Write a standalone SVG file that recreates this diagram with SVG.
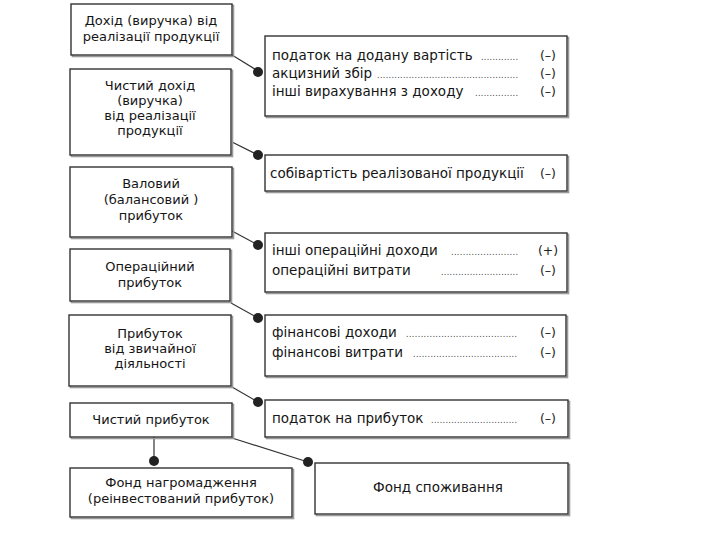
<svg xmlns="http://www.w3.org/2000/svg" width="720" height="540" viewBox="0 0 720 540">
<style>
.box{fill:#fff;stroke:#333;stroke-width:1.4}
.sh{fill:none;stroke:#9a9a9a;stroke-width:1.6}
.t{font-family:"DejaVu Sans","Liberation Sans",sans-serif;font-size:13px;fill:#151515}
.r{font-size:13.5px}
.c{text-anchor:middle}
.d{font-family:"DejaVu Sans","Liberation Sans",sans-serif;font-size:8px;fill:#3a3a3a}
.s{font-family:"DejaVu Sans","Liberation Sans",sans-serif;font-size:12.5px;fill:#222;text-anchor:middle}
.ln{stroke:#333;stroke-width:1.2;fill:none}
.dot{fill:#222}
</style>
<rect width="720" height="540" fill="#fff"/>
<g id="connectors">
<line class="ln" x1="232" y1="55" x2="258" y2="71"/>
<circle class="dot" cx="258" cy="72" r="5"/>
<line class="ln" x1="232" y1="142" x2="258" y2="155"/>
<circle class="dot" cx="258" cy="155" r="5"/>
<line class="ln" x1="232" y1="231" x2="258" y2="245"/>
<circle class="dot" cx="258" cy="245" r="5"/>
<line class="ln" x1="231" y1="303" x2="258" y2="318"/>
<circle class="dot" cx="258" cy="318" r="5"/>
<line class="ln" x1="232" y1="387" x2="258" y2="402"/>
<circle class="dot" cx="258" cy="402" r="5"/>
<line class="ln" x1="154" y1="437" x2="154" y2="461"/>
<circle class="dot" cx="154" cy="461" r="5"/>
<line class="ln" x1="232" y1="438" x2="308" y2="462"/>
<circle class="dot" cx="308" cy="462" r="5"/>
</g>
<g id="n1">
<rect class="sh" x="72.5" y="5.5" width="161" height="51"/>
<rect class="box" x="71" y="4" width="161" height="51"/>
<text class="t c" x="151" y="25">Дохід (виручка) від</text>
<text class="t c" x="151" y="41">реалізації продукції</text>
</g>
<g id="n2">
<rect class="sh" x="71.5" y="70.5" width="161" height="86"/>
<rect class="box" x="70" y="69" width="161" height="86"/>
<text class="t c" x="150" y="90">Чистий дохід</text>
<text class="t c" x="150" y="105">(виручка)</text>
<text class="t c" x="150" y="120">від реалізації</text>
<text class="t c" x="150" y="135">продукції</text>
</g>
<g id="n3">
<rect class="sh" x="71.5" y="168.5" width="162" height="70"/>
<rect class="box" x="70" y="167" width="162" height="70"/>
<text class="t c" x="151" y="188">Валовий</text>
<text class="t c" x="151" y="204">(балансовий )</text>
<text class="t c" x="151" y="220">прибуток</text>
</g>
<g id="n4">
<rect class="sh" x="71.5" y="250.5" width="160" height="52"/>
<rect class="box" x="70" y="249" width="160" height="52"/>
<text class="t c" x="150" y="271">Операційний</text>
<text class="t c" x="150" y="287">прибуток</text>
</g>
<g id="n5">
<rect class="sh" x="70.5" y="316.5" width="162" height="71"/>
<rect class="box" x="69" y="315" width="162" height="71"/>
<text class="t c" x="150" y="338">Прибуток</text>
<text class="t c" x="150" y="353">від  звичайної</text>
<text class="t c" x="150" y="368">діяльності</text>
</g>
<g id="n6">
<rect class="sh" x="71.5" y="404.5" width="162" height="34"/>
<rect class="box" x="70" y="403" width="162" height="34"/>
<text class="t c" x="151" y="424">Чистий прибуток</text>
</g>
<g id="n7">
<rect class="sh" x="71.5" y="469.5" width="222" height="49"/>
<rect class="box" x="70" y="468" width="222" height="49"/>
<text class="t c" x="181" y="487">Фонд нагромадження</text>
<text class="t c" x="181" y="503">(реінвестований прибуток)</text>
</g>
<g id="n8">
<rect class="sh" x="316.5" y="464.5" width="253" height="51"/>
<rect class="box" x="315" y="463" width="253" height="51"/>
<text class="t r c" x="438" y="492">Фонд споживання</text>
</g>
<g id="r1">
<rect class="sh" x="266.5" y="37.5" width="302" height="80"/>
<rect class="box" x="265" y="36" width="302" height="80"/>
<text class="t r" x="272" y="60">податок на додану вартість</text>
<text class="d" x="481" y="60" textLength="37" lengthAdjust="spacing">.............</text>
<text class="s" x="548" y="60">(–)</text>
<text class="t r" x="272" y="78">акцизний збір</text>
<text class="d" x="377" y="78" textLength="141" lengthAdjust="spacing">.................................................</text>
<text class="s" x="548" y="78">(–)</text>
<text class="t r" x="272" y="96">інші вирахування з доходу</text>
<text class="d" x="475" y="96" textLength="43" lengthAdjust="spacing">...............</text>
<text class="s" x="548" y="96">(–)</text>
</g>
<g id="r2">
<rect class="sh" x="266.5" y="156.5" width="302" height="36"/>
<rect class="box" x="265" y="155" width="302" height="36"/>
<text class="t r" x="270" y="178">собівартість реалізованої продукції</text>
<text class="s" x="548" y="178">(–)</text>
</g>
<g id="r3">
<rect class="sh" x="266.5" y="234.5" width="302" height="59"/>
<rect class="box" x="265" y="233" width="302" height="59"/>
<text class="t r" x="272" y="255">інші операційні доходи</text>
<text class="d" x="451" y="255" textLength="67" lengthAdjust="spacing">.......................</text>
<text class="s" x="548" y="255">(+)</text>
<text class="t r" x="272" y="275">операційні витрати</text>
<text class="d" x="441" y="275" textLength="77" lengthAdjust="spacing">...........................</text>
<text class="s" x="548" y="275">(–)</text>
</g>
<g id="r4">
<rect class="sh" x="266.5" y="316.5" width="301" height="61"/>
<rect class="box" x="265" y="315" width="301" height="61"/>
<text class="t r" x="272" y="337">фінансові доходи</text>
<text class="d" x="406" y="337" textLength="111" lengthAdjust="spacing">......................................</text>
<text class="s" x="548" y="337">(–)</text>
<text class="t r" x="272" y="357">фінансові витрати</text>
<text class="d" x="413" y="357" textLength="104" lengthAdjust="spacing">....................................</text>
<text class="s" x="548" y="357">(–)</text>
</g>
<g id="r5">
<rect class="sh" x="266.5" y="401.5" width="303" height="37"/>
<rect class="box" x="265" y="400" width="303" height="37"/>
<text class="t r" x="272" y="423">податок на прибуток</text>
<text class="d" x="431" y="423" textLength="86" lengthAdjust="spacing">..............................</text>
<text class="s" x="548" y="423">(–)</text>
</g>
</svg>
